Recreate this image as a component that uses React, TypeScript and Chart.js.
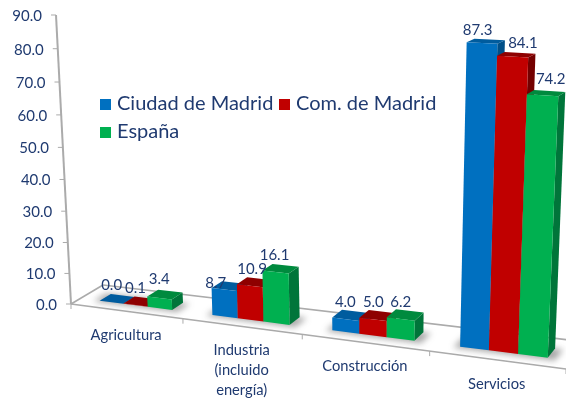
import React, { useEffect, useRef } from "react";
import { Chart, registerables } from "chart.js";

Chart.register(...registerables);

const categories: (string | string[])[] = ["Agricultura", ["Industria", "(incluido", "energía)"], "Construcción", "Servicios"];
const ciudadMadrid = [0.0, 8.7, 4.0, 87.3];
const comMadrid = [0.1, 10.9, 5.0, 84.1];
const espana = [3.4, 16.1, 6.2, 74.2];
const seriesNames = ["Ciudad de Madrid", "Com. de Madrid", "España"];
const frontColors = ["#0070C0", "#C00000", "#00B050"];
const topColors = ["#005C9E", "#8E0000", "#008A3E"];
const sideColors = ["#004F88", "#740000", "#00753A"];
const TEXT = "#1F3A70";
const AXIS = "#ABABAB";
const FONT = "Lato";

// the reference's value labels were nudged by hand off their bars: [dx, dy] per series, per category
const labelNudges: [number, number][][] = [
  [[-11, -1], [-19, 10], [-10, 0], [-12, 0]],
  [[-11, -1], [-8, -1], [-9, 0], [3, -1]],
  [[-11, -3], [-11, -1], [-9, 0], [1, -3]],
];

type P = [number, number];
function quad(p0: P, p1: P, p2: P, p3: P) {
  const dx1 = p1[0] - p2[0], dx2 = p3[0] - p2[0], dx3 = p0[0] - p1[0] + p2[0] - p3[0];
  const dy1 = p1[1] - p2[1], dy2 = p3[1] - p2[1], dy3 = p0[1] - p1[1] + p2[1] - p3[1];
  const den = dx1 * dy2 - dx2 * dy1;
  const g = (dx3 * dy2 - dx2 * dy3) / den;
  const h = (dx1 * dy3 - dx3 * dy1) / den;
  const a = p1[0] - p0[0] + g * p1[0], b = p3[0] - p0[0] + h * p3[0], c = p0[0];
  const d = p1[1] - p0[1] + g * p1[1], e = p3[1] - p0[1] + h * p3[1], f = p0[1];
  return (u: number, v: number): P => {
    const w = g * u + h * v + 1;
    return [(a * u + b * v + c) / w, (d * u + e * v + f) / w];
  };
}
// perspective planes of the 3-D box: (u along categories, v up the value axis)
const frontPlane = quad([71, 304], [566, 369], [581, 41], [56, 15]);
const backPlane = quad([103, 285], [586, 342], [600, 31], [82, 6]);
const project = (u: number, v: number, d: number): P => {
  const f = frontPlane(u, v), b = backPlane(u, v);
  return [f[0] + (b[0] - f[0]) * d, f[1] + (b[1] - f[1]) * d];
};
const BAR_FRONT = 0.3;
const BAR_BACK = 0.65;

function poly(ctx: CanvasRenderingContext2D, pts: P[], fill: string) {
  ctx.beginPath();
  pts.forEach((p, i) => (i ? ctx.lineTo(p[0], p[1]) : ctx.moveTo(p[0], p[1])));
  ctx.closePath();
  ctx.fillStyle = fill;
  ctx.fill();
}
function line(ctx: CanvasRenderingContext2D, a: P, b: P, w = 1.6) {
  ctx.beginPath();
  ctx.moveTo(a[0], a[1]);
  ctx.lineTo(b[0], b[1]);
  ctx.strokeStyle = AXIS;
  ctx.lineWidth = w;
  ctx.stroke();
}

const perspective3D = {
  id: "perspective3D",
  beforeDatasetsDraw(chart: any) {
    const ctx: CanvasRenderingContext2D = chart.ctx;
    const area = chart.chartArea;
    const yScale = chart.scales.y;
    const xScale = chart.scales.x;
    const U = (x: number) => (x - area.left) / area.width;
    const V = (y: number) => (area.bottom - y) / area.height;

    ctx.save();
    // floor
    line(ctx, project(0, 0, 0), project(0, 0, 1));
    line(ctx, project(0, 0, 1), project(1, 0, 1));
    line(ctx, project(0, 0, 0), project(1, 0, 0));
    // category ticks + labels
    const n = categories.length;
    for (let i = 0; i <= n; i++) {
      const p = project(i / n, 0, 0);
      line(ctx, p, [p[0], p[1] + 5], 1);
    }
    ctx.textAlign = "center";
    ctx.textBaseline = "middle";
    ctx.fillStyle = TEXT;
    ctx.font = `14.7px ${FONT}`;
    xScale.getLabels().forEach((lab: string | string[], i: number) => {
      const p = project(U(xScale.getPixelForValue(i)), 0, 0);
      const lines = Array.isArray(lab) ? lab : [lab];
      lines.forEach((t, k) => ctx.fillText(t, p[0], p[1] + 24 + k * 20));
    });
    // value axis
    const top = V(yScale.getPixelForValue(90));
    line(ctx, project(0, 0, 0), project(0, top, 0), 2);
    ctx.textAlign = "right";
    ctx.font = `15px ${FONT}`;
    yScale.ticks.forEach((t: any) => {
      const p = project(0, V(yScale.getPixelForValue(t.value)), 0);
      line(ctx, [p[0] - 5, p[1]], p, 1);
      ctx.fillStyle = TEXT;
      ctx.fillText(t.value.toFixed(1), p[0] - 14, p[1] + 1);
    });

    const metas = chart.getSortedVisibleDatasetMetas();
    // soft shadows on the floor
    ctx.save();
    ctx.filter = "blur(3px)";
    categories.forEach((_, i) => {
      const first = metas[0].data[i], last = metas[metas.length - 1].data[i];
      const l = U(first.x - first.width / 2), r = U(last.x + last.width / 2);
      poly(ctx, [project(l - 0.01, 0, BAR_FRONT - 0.06), project(r + 0.015, 0, BAR_FRONT - 0.06), project(r + 0.015, 0, BAR_BACK), project(l - 0.01, 0, BAR_BACK)], "rgba(60,60,60,0.45)");
    });
    ctx.restore();

    // bars: left to right, projected from the positions the scales computed
    categories.forEach((_, i) => {
      metas.forEach((meta: any, s: number) => {
        const el = meta.data[i];
        const l = U(el.x - el.width / 2), r = U(el.x + el.width / 2);
        const v = V(el.y), b = V(el.base);
        const fl0 = project(l, b, BAR_FRONT), fr0 = project(r, b, BAR_FRONT);
        const fl1 = project(l, v, BAR_FRONT), fr1 = project(r, v, BAR_FRONT);
        const br0 = project(r, b, BAR_BACK), br1 = project(r, v, BAR_BACK), bl1 = project(l, v, BAR_BACK);
        poly(ctx, [fr0, br0, br1, fr1], sideColors[s]);
        poly(ctx, [fl1, fr1, br1, bl1], topColors[s]);
        poly(ctx, [fl0, fr0, fr1, fl1], frontColors[s]);
      });
    });
    // value labels
    ctx.textAlign = "center";
    ctx.font = `15px ${FONT}`;
    ctx.fillStyle = TEXT;
    metas.forEach((meta: any, s: number) => {
      meta.data.forEach((el: any, i: number) => {
        const p = project(U(el.x), V(el.y), BAR_BACK);
        const [nx, ny] = labelNudges[s][i];
        ctx.fillText(chart.data.datasets[meta.index].data[i].toFixed(1), p[0] + nx, p[1] - 9 + ny);
      });
    });
    // legend
    ctx.textAlign = "left";
    ctx.font = `20px ${FONT}`;
    const pos: [number, number][] = [[100, 104], [279, 104], [100, 132]];
    chart.data.datasets.forEach((ds: any, i: number) => {
      ctx.fillStyle = ds.backgroundColor;
      ctx.fillRect(pos[i][0], pos[i][1] - 5, 11, 11);
      ctx.fillStyle = TEXT;
      ctx.fillText(ds.label, pos[i][0] + 17, pos[i][1]);
    });
    ctx.restore();
    return false;
  },
};

export default function App() {
  const ref = useRef<HTMLCanvasElement>(null);
  useEffect(() => {
    document.body.style.margin = "0";
    document.body.style.background = "#fff";
    const mk = (i: number, data: number[]) => ({
      label: seriesNames[i],
      data,
      backgroundColor: frontColors[i],
      barPercentage: 1,
      categoryPercentage: 0.65,
    });
    const chart = new Chart(ref.current!, {
      type: "bar",
      data: { labels: categories as any, datasets: [mk(0, ciudadMadrid), mk(1, comMadrid), mk(2, espana)] },
      options: {
        responsive: false,
        animation: false,
        layout: { padding: 0 },
        plugins: { legend: { display: false }, tooltip: { enabled: false } },
        scales: {
          x: { display: false, offset: true },
          y: { display: false, min: 0, max: 90, ticks: { stepSize: 10 } },
        },
      },
      plugins: [perspective3D as any],
    });
    return () => chart.destroy();
  }, []);
  return <canvas ref={ref} width={566} height={402} style={{ display: "block" }} />;
}
